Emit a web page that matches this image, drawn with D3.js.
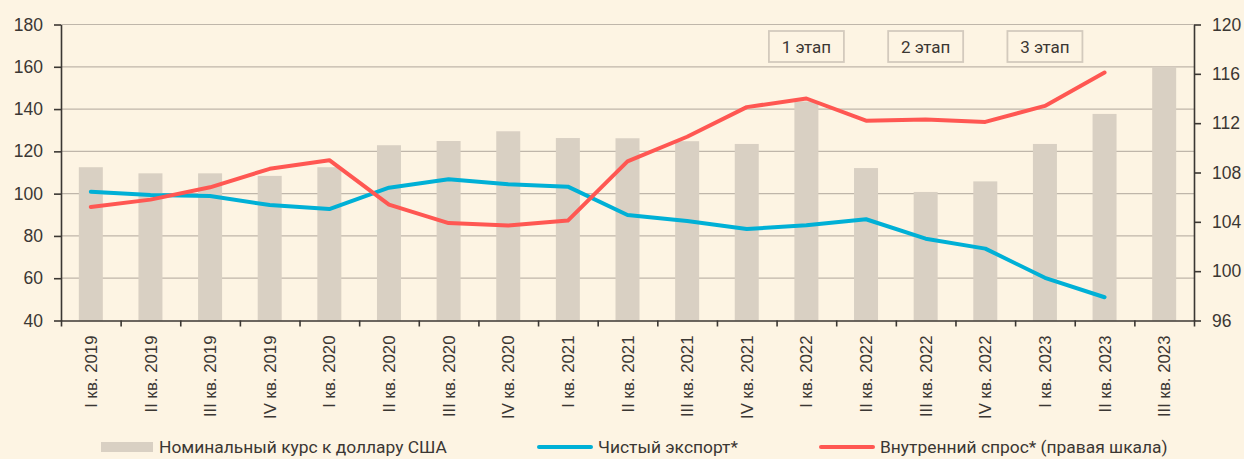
<!DOCTYPE html>
<html>
<head>
<meta charset="utf-8">
<script src="https://cdn.jsdelivr.net/npm/d3@7"></script>
<style>
    body { margin: 0; background: #fdf4e3; }
    svg { display: block; font-family: "Roboto", "Liberation Sans", sans-serif; }
</style>
</head>
<body>
<script>
const quarters = [
    "I кв. 2019", "II кв. 2019", "III кв. 2019", "IV кв. 2019",
    "I кв. 2020", "II кв. 2020", "III кв. 2020", "IV кв. 2020",
    "I кв. 2021", "II кв. 2021", "III кв. 2021", "IV кв. 2021",
    "I кв. 2022", "II кв. 2022", "III кв. 2022", "IV кв. 2022",
    "I кв. 2023", "II кв. 2023", "III кв. 2023"
];
// Номинальный курс к доллару США (левая шкала)
const exchangeRate = [112.5, 109.6, 109.6, 108.4, 112.5, 122.9, 124.9, 129.5, 126.3, 126.2,
    124.8, 123.5, 143.6, 112.1, 100.8, 105.8, 123.5, 137.7, 160.0];
// Чистый экспорт* (левая шкала)
const netExport = [100.9, 99.4, 98.9, 94.6, 92.7, 102.8, 106.8, 104.4, 103.3, 89.9,
    87.1, 83.3, 85.0, 87.9, 78.7, 74.0, 60.2, 51.0];
// Внутренний спрос* (правая шкала)
const domesticDemand = [105.2, 105.8, 106.8, 108.3, 109.0, 105.4, 103.9, 103.7, 104.1, 108.9,
    110.9, 113.3, 114.0, 112.2, 112.3, 112.1, 113.4, 116.1];
const leftTicks = [40, 60, 80, 100, 120, 140, 160, 180];
const rightTicks = [96, 100, 104, 108, 112, 116, 120];
const stages = [
    { label: "1 этап", quarter: "I кв. 2022" },
    { label: "2 этап", quarter: "III кв. 2022" },
    { label: "3 этап", quarter: "I кв. 2023" }
];
const legendItems = [
    { label: "Номинальный курс к доллару США", kind: "bar" },
    { label: "Чистый экспорт*", kind: "blue" },
    { label: "Внутренний спрос* (правая шкала)", kind: "red" }
];

const W = 1244, H = 459;
const plot = { left: 61, right: 1194, top: 24.5, bottom: 320.5 };
const colors = { bg: "#fdf4e3", bar: "#d9d0c3", blue: "#00b0d6", red: "#ff5752",
    grid: "#bfb6aa", axis: "#3b3733", text: "#3b3733", box: "#d3cabd" };

const svg = d3.select("body").append("svg")
    .attr("width", W)
    .attr("height", H);
svg.append("rect").attr("width", W).attr("height", H).attr("fill", colors.bg);

// Scales
const x = d3.scaleBand()
    .domain(quarters)
    .range([plot.left, plot.right])
    .padding(0);
const xEdge = d3.scaleLinear()
    .domain([0, quarters.length])
    .range([plot.left, plot.right]);
const yLeft = d3.scaleLinear().domain([40, 180]).range([plot.bottom, plot.top]);
const yRight = d3.scaleLinear().domain([96, 120]).range([plot.bottom, plot.top]);

// Gridlines
svg.append("g")
    .selectAll("line")
    .data(leftTicks.slice(1))
    .enter()
    .append("line")
        .attr("x1", plot.left)
        .attr("x2", plot.right)
        .attr("y1", d => yLeft(d))
        .attr("y2", d => yLeft(d))
        .attr("stroke", colors.grid)
        .attr("stroke-width", 1.2);

// Bars
const barW = 24;
svg.append("g")
    .selectAll("rect")
    .data(exchangeRate)
    .enter()
    .append("rect")
        .attr("x", (d, i) => x(quarters[i]) + x.bandwidth() / 2 - barW / 2)
        .attr("y", d => yLeft(d))
        .attr("width", barW)
        .attr("height", d => yLeft(40) - yLeft(d))
        .attr("fill", colors.bar);

// Stage boxes
const boxW = 75, boxH = 31;
const boxG = svg.append("g")
    .selectAll("g")
    .data(stages)
    .enter()
    .append("g")
        .attr("transform", d => `translate(${x(d.quarter) + x.bandwidth() / 2 - boxW / 2}, 31)`);
boxG.append("rect")
    .attr("width", boxW)
    .attr("height", boxH)
    .attr("fill", colors.bg)
    .attr("stroke", colors.box)
    .attr("stroke-width", 1.8);
boxG.append("text")
    .attr("x", boxW / 2)
    .attr("y", boxH / 2)
    .attr("dy", "0.36em")
    .attr("text-anchor", "middle")
    .attr("fill", colors.text)
    .style("font-size", "17px")
    .text(d => d.label);

// Lines
const cx = i => x(quarters[i]) + x.bandwidth() / 2;
const blueLine = d3.line().x((d, i) => cx(i)).y(d => yLeft(d));
const redLine = d3.line().x((d, i) => cx(i)).y(d => yRight(d));
svg.append("path")
    .attr("d", blueLine(netExport))
    .attr("fill", "none")
    .attr("stroke", colors.blue)
    .attr("stroke-width", 4)
    .attr("stroke-linecap", "round")
    .attr("stroke-linejoin", "round");
svg.append("path")
    .attr("d", redLine(domesticDemand))
    .attr("fill", "none")
    .attr("stroke", colors.red)
    .attr("stroke-width", 4)
    .attr("stroke-linecap", "round")
    .attr("stroke-linejoin", "round");

// Axes
const leftAxis = d3.axisLeft(yLeft).tickValues(leftTicks).tickSize(7).tickSizeOuter(0).tickPadding(11);
const gL = svg.append("g")
    .attr("transform", `translate(${plot.left}, 0)`)
    .call(leftAxis);
const rightAxis = d3.axisRight(yRight).tickValues(rightTicks).tickSize(7).tickSizeOuter(0).tickPadding(11);
const gR = svg.append("g")
    .attr("transform", `translate(${plot.right}, 0)`)
    .call(rightAxis);
const bottomTicks = d3.axisBottom(xEdge)
    .tickValues(d3.range(0, quarters.length + 1))
    .tickFormat("")
    .tickSize(6)
    .tickSizeOuter(0);
const gB = svg.append("g")
    .attr("transform", `translate(0, ${plot.bottom})`)
    .call(bottomTicks);
const bottomLabels = d3.axisBottom(x).tickSize(0).tickPadding(0);
const gBL = svg.append("g")
    .attr("transform", `translate(0, ${plot.bottom})`)
    .call(bottomLabels);
gBL.select(".domain").remove();
gBL.selectAll("text")
    .attr("transform", "rotate(-90)")
    .attr("x", -15)
    .attr("y", 0)
    .attr("dy", "0.36em")
    .attr("text-anchor", "end")
    .style("font-size", "16.8px");

[gL, gR, gB].forEach(g => {
    g.select(".domain").attr("stroke", colors.axis).attr("stroke-width", 1.6);
    g.selectAll(".tick line").attr("stroke", colors.axis).attr("stroke-width", 1.6);
});
[gL, gR, gBL].forEach(g => {
    g.selectAll("text").attr("fill", colors.text).attr("font-family", null);
});
gL.selectAll("text").style("font-size", "17.5px");
gR.selectAll("text").style("font-size", "17.5px");

// Legend
const legendX = [101, 538, 820];
const legend = svg.append("g")
    .selectAll("g")
    .data(legendItems)
    .enter()
    .append("g")
        .attr("transform", (d, i) => `translate(${legendX[i]}, 447)`);
legend.filter(d => d.kind === "bar").append("rect")
    .attr("x", 0).attr("y", -5).attr("width", 52).attr("height", 10)
    .attr("fill", colors.bar);
legend.filter(d => d.kind !== "bar").append("line")
    .attr("x1", 1).attr("x2", 53)
    .attr("stroke", d => d.kind === "blue" ? colors.blue : colors.red)
    .attr("stroke-width", 4)
    .attr("stroke-linecap", "round");
legend.append("text")
    .attr("x", d => d.kind === "bar" ? 58 : 60)
    .attr("dy", "0.36em")
    .attr("fill", colors.text)
    .style("font-size", "17.4px")
    .text(d => d.label);
</script>
</body>
</html>
